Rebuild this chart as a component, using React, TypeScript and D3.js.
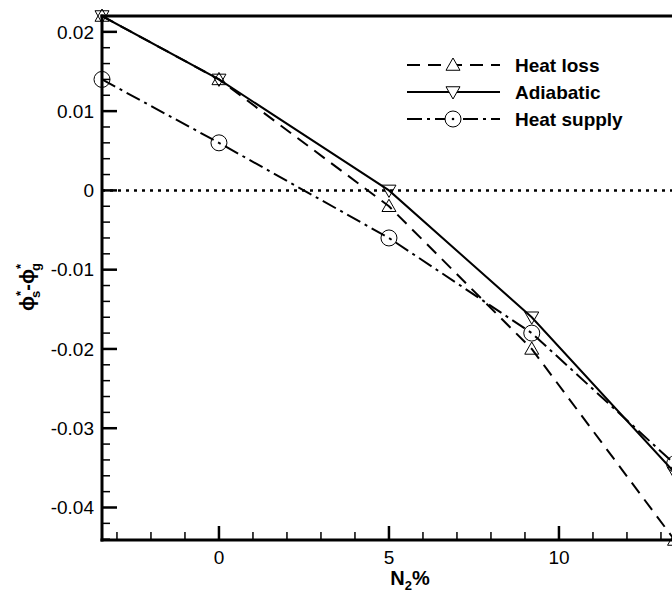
import React from "react";
import * as d3 from "d3";

const xN2 = [-3.44, 0, 5, 9.2, 13.4];
const heatLoss = [0.022, 0.014, -0.002, -0.02, -0.0441];
const adiabatic = [0.022, 0.014, 0.0, -0.016, -0.0356];
const heatSupply = [0.014, 0.006, -0.006, -0.018, -0.0345];
const yMajorTicks = [-0.04, -0.03, -0.02, -0.01, 0, 0.01, 0.02];
const xMajorTicks = [0, 5, 10];
const seriesNames = ["Heat loss", "Adiabatic", "Heat supply"];

const W = 672, H = 595;
const left = 102, top = 16, bottom = 540, right = 680;
const FONT = "'Liberation Sans', Arial, sans-serif";

export default function App() {
  const x = d3.scaleLinear().domain([-3.44, 13.56]).range([left, right]);
  const y = d3.scaleLinear().domain([-0.0441, 0.022]).range([bottom, top]);
  const line = d3.line<[number, number]>().x(d => x(d[0])).y(d => y(d[1]));
  const pts = (vals: number[]) => xN2.map((v, i) => [v, vals[i]] as [number, number]);

  const yMinor: number[] = [];
  for (let k = -22; k <= 11; k++) if (k % 5 !== 0) yMinor.push(k * 0.002);
  const xMinor = d3.range(-3, 14, 1).filter(v => !xMajorTicks.includes(v));

  const triUp = (cx: number, cy: number, s = 7) =>
    `M${cx},${cy - s} L${cx + s},${cy + s * 0.75} L${cx - s},${cy + s * 0.75} Z`;
  const triDown = (cx: number, cy: number, s = 7) =>
    `M${cx},${cy + s} L${cx + s},${cy - s * 0.75} L${cx - s},${cy - s * 0.75} Z`;

  const series = [
    { name: seriesNames[0], vals: heatLoss, dash: "13 8", marker: "up" },
    { name: seriesNames[1], vals: adiabatic, dash: "none", marker: "down" },
    { name: seriesNames[2], vals: heatSupply, dash: "15 5 3 5", marker: "circle" },
  ];

  const drawMarker = (m: string, cx: number, cy: number, fill: string, key: string) => {
    if (m === "up") return <path key={key} d={triUp(cx, cy)} fill={fill} stroke="#000" strokeWidth={1} />;
    if (m === "down") return <path key={key} d={triDown(cx, cy)} fill={fill} stroke="#000" strokeWidth={1} />;
    return (
      <g key={key}>
        <circle cx={cx} cy={cy} r={8} fill={fill} stroke="#000" strokeWidth={1} />
        {fill !== "none" && <circle cx={cx} cy={cy} r={1.3} fill="#000" />}
      </g>
    );
  };

  const legendY = [65, 92, 119];

  return (
    <svg width={W} height={H} style={{ position: "absolute", left: 0, top: 0, background: "#fff" }} fontFamily={FONT}>
      <defs>
        <clipPath id="plot">
          <rect x={left} y={top} width={right - left} height={bottom - top} />
        </clipPath>
      </defs>
      <rect x={0} y={0} width={W} height={H} fill="#fff" />
      <g clipPath="url(#plot)">
        <line x1={left} x2={right} y1={y(0)} y2={y(0)} stroke="#000" strokeWidth={2.5} strokeDasharray="3 5" />
        {series.map(s => (
          <path key={s.name} d={line(pts(s.vals)) || ""} fill="none" stroke="#000" strokeWidth={2}
            strokeDasharray={s.dash} />
        ))}
      </g>
      {series.map(s => pts(s.vals).map((p, i) => drawMarker(s.marker, x(p[0]), y(p[1]), "none", s.name + i)))}
      {/* axes */}
      <rect x={left - 1.5} y={top - 1.5} width={right - left + 3} height={3} fill="#000" />
      <rect x={left - 1.5} y={bottom - 1.5} width={right - left + 3} height={3} fill="#000" />
      <rect x={left - 1.5} y={top - 1.5} width={3} height={bottom - top + 3} fill="#000" />
      {yMajorTicks.map((v, i) => (
        <rect key={"ymt" + i} x={left} y={y(v) - 1.25} width={15} height={2.5} fill="#000" />
      ))}
      {yMajorTicks.map((v, i) => (
        <text key={"yml" + i} x={94} y={y(v)} dy="0.35em" textAnchor="end" fontSize={19}>{v === 0 ? "0" : String(v)}</text>
      ))}
      {yMinor.map((v, i) => (
        <rect key={"yn" + i} x={left} y={y(v) - 0.75} width={8} height={1.5} fill="#000" />
      ))}
      {xMajorTicks.map((v, i) => (
        <rect key={"xmt" + i} x={x(v) - 1.25} y={bottom - 14} width={2.5} height={14} fill="#000" />
      ))}
      {xMajorTicks.map((v, i) => (
        <text key={"xml" + i} x={x(v)} y={bottom + 24} textAnchor="middle" fontSize={19}>{v}</text>
      ))}
      {xMinor.map((v, i) => (
        <rect key={"xn" + i} x={x(v) - 0.75} y={bottom - 8} width={1.5} height={8} fill="#000" />
      ))}
      {/* axis titles */}
      <text x={410} y={585} textAnchor="middle" fontSize={20} fontWeight="bold">
        N<tspan fontSize={13} dy={5}>2</tspan><tspan dy={-5}>%</tspan>
      </text>
      <text transform="translate(34,287) rotate(-90)" textAnchor="middle" fontSize={20} fontWeight="bold">
        ϕ<tspan fontSize={13} dy={-9}>*</tspan><tspan fontSize={13} dx={-7} dy={15}>s</tspan>
        <tspan dy={-6}>-ϕ</tspan><tspan fontSize={13} dy={-9}>*</tspan><tspan fontSize={13} dx={-7} dy={15}>g</tspan>
      </text>
      {/* legend */}
      {series.map((s, i) => (
        <g key={"lg" + s.name}>
          <line x1={407} x2={500} y1={legendY[i]} y2={legendY[i]} stroke="#000" strokeWidth={2}
            strokeDasharray={s.dash} />
          {drawMarker(s.marker, 453, legendY[i], "#fff", "lgm" + i)}
          <text x={515} y={legendY[i]} dy="0.35em" fontSize={19} fontWeight="bold">{s.name}</text>
        </g>
      ))}
    </svg>
  );
}
